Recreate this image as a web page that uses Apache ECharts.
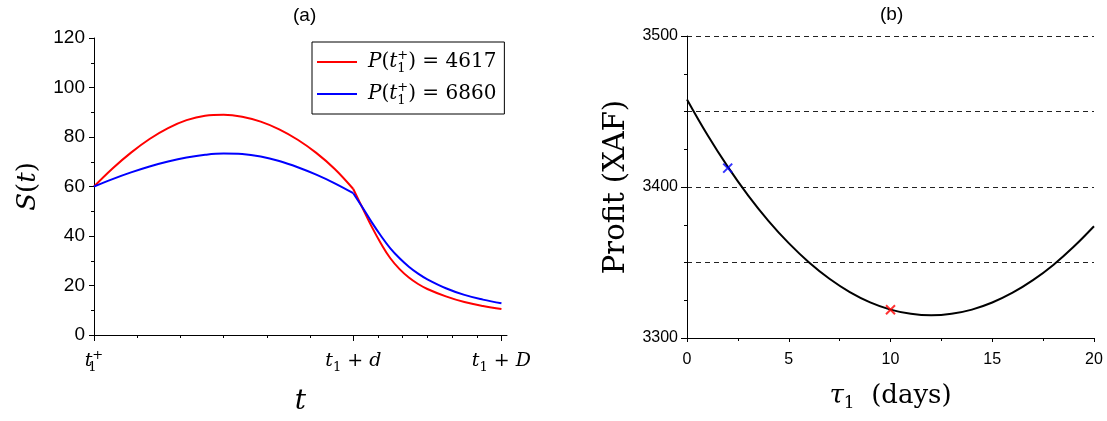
<!DOCTYPE html>
<html>
<head>
<meta charset="utf-8">
<script src="https://cdn.jsdelivr.net/npm/echarts@6/dist/echarts.min.js"></script>
<style>
html, body { margin: 0; padding: 0; background: #fff; }
#main { width: 1107px; height: 421px; }
</style>
</head>
<body>
<div id="main"></div>
<script>
// panel (a): t1+ = 0, t1+d = 7, t1+D = 11
var tRise = [0, 0.5, 1, 1.5, 2, 2.5, 3, 3.5, 4, 4.5, 5, 5.5, 6, 6.5, 7];
var redRise = [60, 67.3, 73.7, 79.2, 83.6, 86.8, 88.6, 89.0, 88.2, 86.2, 83.1, 78.9, 73.6, 67.1, 59.0];
var blueRise = [60, 63, 65.7, 68.1, 70.1, 71.7, 72.8, 73.3, 73.1, 72.1, 70.3, 67.8, 64.8, 61.3, 57.3];
var tFall = [7, 7.25, 7.5, 7.75, 8, 8.25, 8.5, 8.75, 9, 9.5, 10, 10.5, 11];
var redFall = [59.0, 51.3, 43.7, 36.9, 31, 26.6, 23.2, 20.6, 18.6, 15.6, 13.3, 11.7, 10.5];
var blueFall = [57.3, 51.5, 45.5, 40, 35, 31, 27.6, 24.8, 22.5, 18.9, 16.2, 14.3, 12.8];
var tMajor = [0, 7, 11];
var tMinor = [7 / 6, 14 / 6, 21 / 6, 28 / 6, 35 / 6, 7 + 2 / 3, 7 + 4 / 3, 9, 9 + 2 / 3, 9 + 4 / 3];

// panel (b)
var tau = [0, 1, 2, 3, 4, 5, 6, 7, 8, 9, 10, 11, 12, 13, 14, 15, 16, 17, 18, 19, 20];
var profit = [3458, 3434.6, 3413.5, 3394.5, 3377.6, 3362.8, 3350, 3339.2, 3330.4, 3323.6, 3318.8,
  3316, 3315, 3316, 3318.8, 3323.5, 3330, 3338.3, 3348.4, 3360.4, 3374];
var blueMark = [[2, 3412.5]];
var redMark = [[10, 3318.7]];

var serif = 'DejaVu Serif';
var sans = 'Liberation Sans';

function pairs(xs, ys) {
  return xs.map(function (x, i) { return [x, ys[i]]; });
}

function mathRich(size) {
  var small = Math.round(size * 0.66);
  return {
    i: { fontFamily: serif, fontStyle: 'italic', fontSize: size, lineHeight: size + 6, color: '#000' },
    g: { fontFamily: serif, fontStyle: 'italic', fontSize: size, lineHeight: size + 6, color: '#000' },
    n: { fontFamily: serif, fontSize: size, lineHeight: size + 6, color: '#000' },
    sb: { fontFamily: serif, fontSize: small, lineHeight: small + 1, verticalAlign: 'bottom', color: '#000' },
    sb0: { fontFamily: serif, fontSize: small, lineHeight: small + 1, verticalAlign: 'bottom', width: 0, color: '#000' },
    sp: { fontFamily: serif, fontSize: small, lineHeight: small + 1, verticalAlign: 'top', color: '#000' }
  };
}

var legendNames = {
  'P4617': '{i|P}{n|(}{i|t}{sb0|1}{sp|+}{n|) = 4617}',
  'P6860': '{i|P}{n|(}{i|t}{sb0|1}{sp|+}{n|) = 6860}'
};

var myChart = echarts.init(document.getElementById('main'));

var option = {
  animation: false,
  backgroundColor: '#fff',
  title: [
    { text: '(a)', left: 293, top: 6, padding: 0, textStyle: { fontFamily: sans, fontSize: 19, fontWeight: 'normal', color: '#000' } },
    { text: '(b)', left: 880, top: 5, padding: 0, textStyle: { fontFamily: sans, fontSize: 19, fontWeight: 'normal', color: '#000' } }
  ],
  legend: {
    data: ['P4617', 'P6860'],
    orient: 'vertical',
    left: 312,
    top: 42,
    padding: [7, 8, 7, 5],
    itemGap: 6,
    itemWidth: 40,
    itemHeight: 2,
    icon: 'rect',
    borderColor: '#000',
    borderWidth: 1,
    formatter: function (name) { return legendNames[name]; },
    textStyle: { padding: [0, 0, 0, 6], rich: mathRich(20) }
  },
  grid: [
    { left: 94, right: 600, top: 38, bottom: 84 },
    { left: 687, right: 13, top: 36, bottom: 83 }
  ],
  xAxis: [
    {
      gridIndex: 0, type: 'value', min: 0, max: 11.15, position: 'bottom',
      axisLine: { lineStyle: { color: '#000', width: 1 } },
      axisTick: { customValues: tMajor, length: 6, lineStyle: { color: '#000' } },
      axisLabel: {
        customValues: tMajor, margin: 14,
        formatter: function (v) {
          if (v === 0) return '{i|t}{sb0|1}{sp|+}';
          if (v === 7) return '{i|t}{sb|1}{n| + }{i|d}';
          return '{i|t}{sb|1}{n| + }{i|D}';
        },
        rich: mathRich(19)
      },
      splitLine: { show: false },
      name: 't', nameLocation: 'middle', nameGap: 53,
      nameTextStyle: { fontFamily: serif, fontStyle: 'italic', fontSize: 28, color: '#000' }
    },
    {
      gridIndex: 0, type: 'value', min: 0, max: 11.15, position: 'bottom', offset: 0,
      axisLine: { show: false },
      axisTick: { customValues: tMinor, length: 3, lineStyle: { color: '#000' } },
      axisLabel: { show: false },
      splitLine: { show: false }
    },
    {
      gridIndex: 1, type: 'value', min: 0, max: 20, interval: 5, position: 'bottom',
      axisLine: { lineStyle: { color: '#000', width: 1 } },
      axisTick: { length: 4, lineStyle: { color: '#000' } },
      minorTick: { show: true, splitNumber: 2, length: 3, lineStyle: { color: '#000' } },
      axisLabel: { fontFamily: sans, fontSize: 16, color: '#000', margin: 14 },
      splitLine: { show: false },
      name: '{g|τ}{sb|1}{n|  (days)}', nameLocation: 'middle', nameGap: 42,
      nameTextStyle: { rich: mathRich(26) }
    }
  ],
  yAxis: [
    {
      gridIndex: 0, type: 'value', min: 0, max: 120, interval: 20,
      axisLine: { show: true, lineStyle: { color: '#000', width: 1 } },
      axisTick: { show: true, length: 5, lineStyle: { color: '#000' } },
      minorTick: { show: true, splitNumber: 2, length: 3, lineStyle: { color: '#000' } },
      axisLabel: { fontFamily: sans, fontSize: 19, color: '#000', margin: 9 },
      splitLine: { show: false },
      name: '{i|S}{n|(}{i|t}{n|)}', nameLocation: 'middle', nameGap: 50,
      nameTextStyle: { rich: mathRich(26) }
    },
    {
      gridIndex: 1, type: 'value', min: 3300, max: 3500, interval: 100,
      axisLine: { show: true, lineStyle: { color: '#000', width: 1 } },
      axisTick: { show: true, length: 6, lineStyle: { color: '#000' } },
      minorTick: { show: true, splitNumber: 4, length: 3, lineStyle: { color: '#000' } },
      axisLabel: { fontFamily: sans, fontSize: 16, color: '#000', margin: 9, formatter: function (v) { return String(v); } },
      splitLine: { show: false },
      name: 'Profit (XAF)', nameLocation: 'middle', nameGap: 56,
      nameTextStyle: { fontFamily: serif, fontSize: 29, color: '#000' }
    },
    {
      gridIndex: 1, type: 'value', min: 3300, max: 3500, interval: 50,
      axisLine: { show: false },
      axisTick: { show: false },
      axisLabel: { show: false },
      splitLine: { show: true, lineStyle: { color: '#222', width: 1, type: [5, 4] } }
    }
  ],
  series: [
    { name: 'P4617', type: 'line', xAxisIndex: 0, yAxisIndex: 0, data: pairs(tRise, redRise), smooth: 0.4, showSymbol: false, color: '#ff0000', lineStyle: { width: 2 } },
    { name: 'P4617', type: 'line', xAxisIndex: 0, yAxisIndex: 0, data: pairs(tFall, redFall), smooth: 0.4, showSymbol: false, color: '#ff0000', lineStyle: { width: 2 } },
    { name: 'P6860', type: 'line', xAxisIndex: 0, yAxisIndex: 0, data: pairs(tRise, blueRise), smooth: 0.4, showSymbol: false, color: '#0000ff', lineStyle: { width: 2 } },
    { name: 'P6860', type: 'line', xAxisIndex: 0, yAxisIndex: 0, data: pairs(tFall, blueFall), smooth: 0.4, showSymbol: false, color: '#0000ff', lineStyle: { width: 2 } },
    { name: 'profit', type: 'line', xAxisIndex: 2, yAxisIndex: 1, data: pairs(tau, profit), smooth: 0.4, showSymbol: false, color: '#000', lineStyle: { width: 2 } },
    {
      name: 'tauBlue', type: 'scatter', xAxisIndex: 2, yAxisIndex: 1, data: blueMark, z: 5,
      symbol: 'path://M0,0L10,10M10,0L0,10', symbolSize: 9,
      itemStyle: { color: 'rgba(0,0,0,0)', borderColor: '#0000ff', borderWidth: 2 }
    },
    {
      name: 'tauRed', type: 'scatter', xAxisIndex: 2, yAxisIndex: 1, data: redMark, z: 5,
      symbol: 'path://M0,0L10,10M10,0L0,10', symbolSize: 9,
      itemStyle: { color: 'rgba(0,0,0,0)', borderColor: '#ff0000', borderWidth: 2 }
    }
  ]
};

myChart.setOption(option);
</script>
</body>
</html>
